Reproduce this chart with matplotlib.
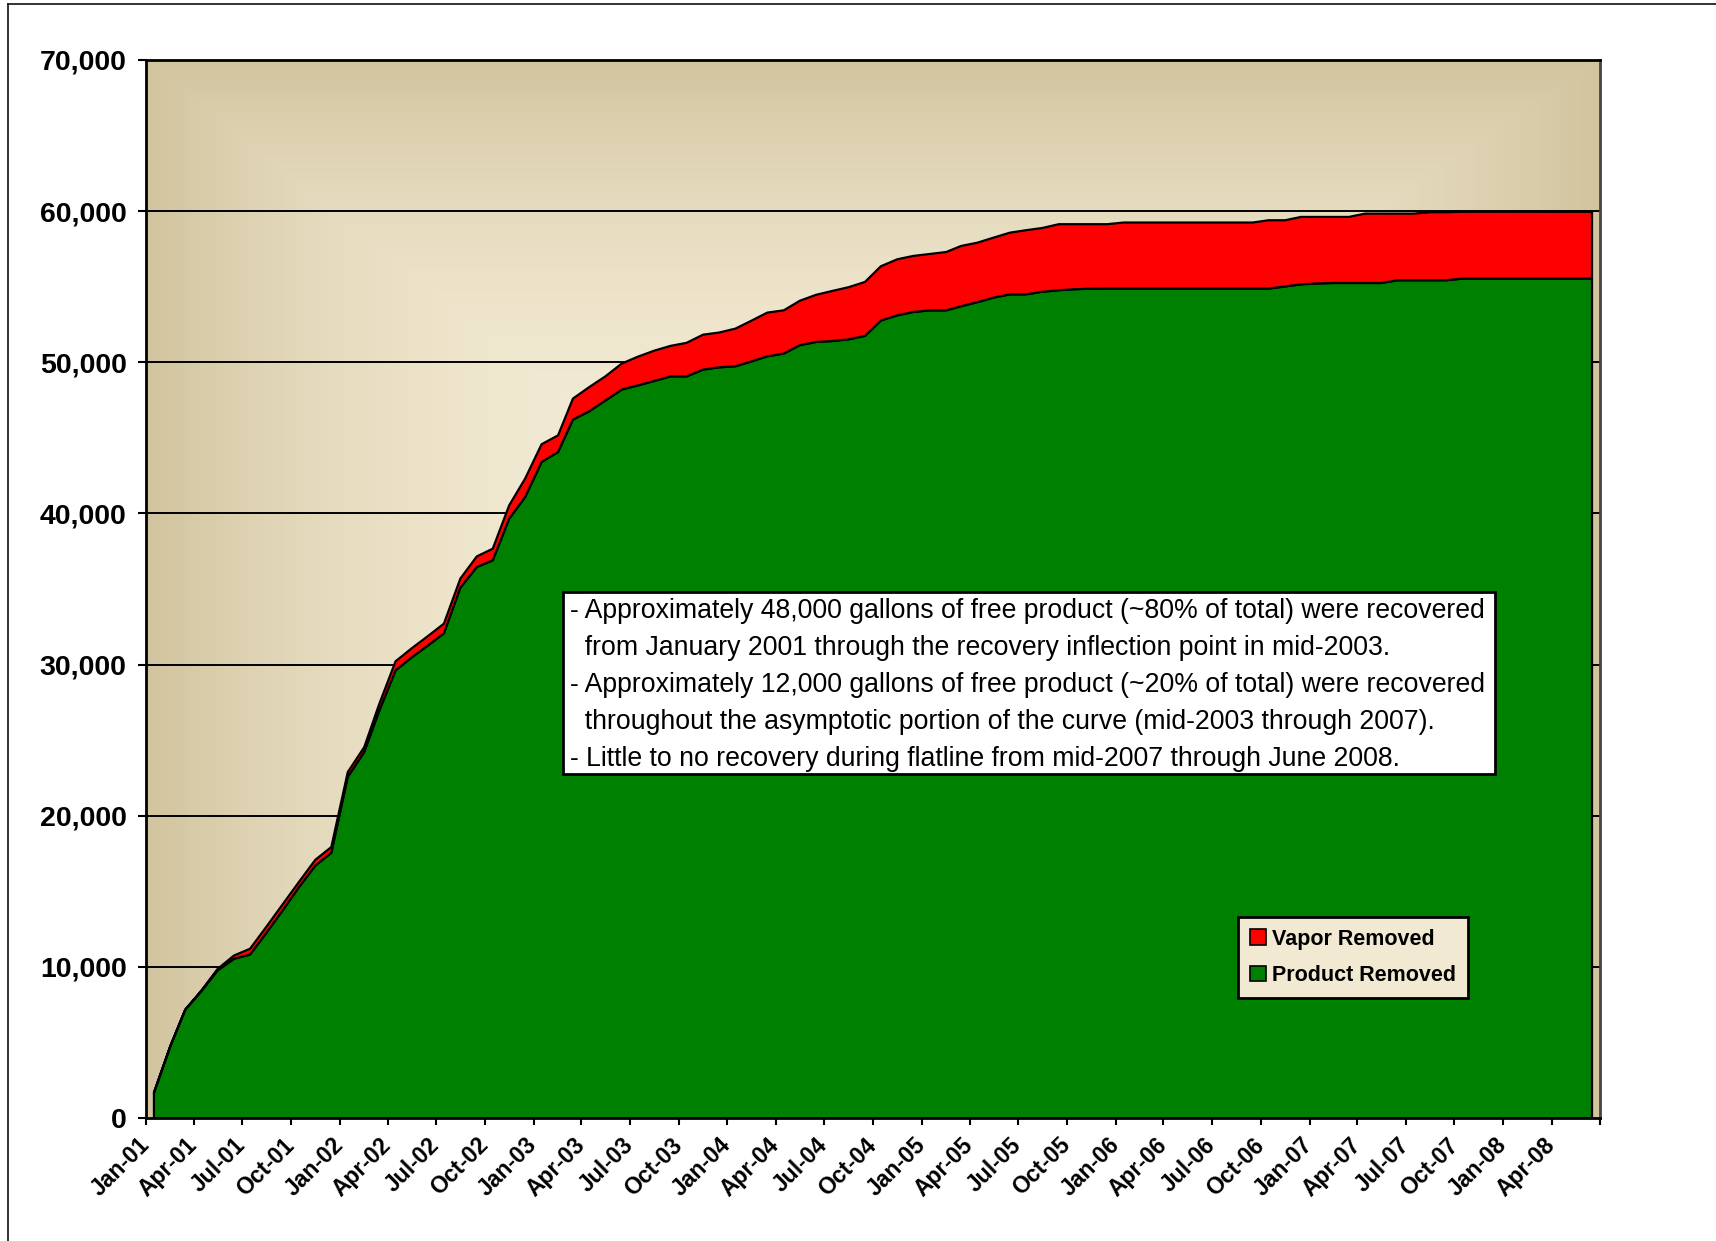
import matplotlib
matplotlib.use("Agg")
import matplotlib.pyplot as plt
from matplotlib.patches import Patch, Rectangle
from matplotlib.lines import Line2D
import numpy as np
import pandas as pd

plt.rcParams['font.family'] = ['Liberation Sans', 'DejaVu Sans']

# cumulative recovery, one reading per month (mid-month), gallons
months = pd.date_range("2001-01-01", "2008-06-01", freq="MS") + pd.Timedelta(days=14)

product_removed = [
    1700, 4800, 7200, 8450, 9800, 10570, 10850, 12300, 13800, 15300,
    16740, 17580, 22600, 24250, 26950, 29650, 30500, 31300, 32100, 35120,
    36490, 36930, 39690, 41120, 43440, 44100, 46240, 46800, 47500, 48230,
    48500, 48800, 49100, 49100, 49550, 49700, 49770, 50100, 50430, 50610,
    51160, 51380, 51440, 51550, 51780, 52800, 53140, 53360, 53470, 53470,
    53740, 54020, 54310, 54530, 54530, 54700, 54800, 54870, 54900, 54910,
    54910, 54910, 54910, 54910, 54910, 54910, 54910, 54910, 54910, 54910,
    55050, 55190, 55250, 55280, 55280, 55280, 55280, 55460, 55460, 55460,
    55460, 55570, 55570, 55570, 55570, 55570, 55570, 55570, 55570, 55570,
]

vapor_removed = [
    0, 0, 0, 50, 100, 220, 380, 400, 400, 350,
    380, 380, 320, 320, 450, 600, 600, 620, 640, 600,
    700, 770, 880, 1220, 1170, 1100, 1390, 1600, 1600, 1720,
    1900, 2000, 2020, 2220, 2310, 2300, 2490, 2700, 2890, 2860,
    2940, 3120, 3310, 3450, 3570, 3590, 3710, 3710, 3730, 3860,
    3990, 3930, 3970, 4080, 4240, 4220, 4370, 4300, 4270, 4260,
    4370, 4370, 4370, 4370, 4370, 4370, 4370, 4370, 4370, 4520,
    4380, 4460, 4400, 4370, 4370, 4590, 4590, 4410, 4410, 4500,
    4500, 4420, 4420, 4420, 4420, 4420, 4420, 4420, 4420, 4420,
]

y_ticks = [0, 10000, 20000, 30000, 40000, 50000, 60000, 70000]
x_ticks = pd.date_range("2001-01-01", "2008-07-01", freq="3MS")
x_labels = [d.strftime("%b-%y") for d in x_ticks[:-1]] + [""]

note = ("- Approximately 48,000 gallons of free product (~80% of total) were recovered\n"
        "  from January 2001 through the recovery inflection point in mid-2003.\n"
        "- Approximately 12,000 gallons of free product (~20% of total) were recovered\n"
        "  throughout the asymptotic portion of the curve (mid-2003 through 2007).\n"
        "- Little to no recovery during flatline from mid-2007 through June 2008.")

W, H = 1716, 1241
fig = plt.figure(figsize=(W / 100, H / 100), dpi=100)
ax = fig.add_axes([146 / W, 1 - 1118 / H, (1600 - 146) / W, (1118 - 60) / H])

# tan-to-cream background, lightest towards the middle
gx, gy = np.meshgrid(np.linspace(0, 1, 400), np.linspace(0, 1, 300))
cx, cy = 0.45, 0.5
d = np.maximum(np.abs(gx - cx) / np.where(gx < cx, cx, 1 - cx),
               np.abs(gy - cy) / np.where(gy < cy, cy, 1 - cy))
t = np.clip(d, 0, 1) ** 2.6
edge = np.array([209, 196, 158]) / 255
centre = np.array([244, 236, 214]) / 255
bg = centre[None, None, :] * (1 - t[..., None]) + edge[None, None, :] * t[..., None]
ax.imshow(bg, extent=[0, 1, 0, 1], transform=ax.transAxes, origin="lower",
          aspect="auto", zorder=0, interpolation="bilinear")

for yv in y_ticks[1:-1]:
    ax.axhline(yv, color="black", lw=1.4, zorder=1)

x = months.to_pydatetime()
polys = ax.stackplot(x, product_removed, vapor_removed,
                     colors=["#008000", "#FF0000"], edgecolor="black",
                     linewidth=1.6, zorder=2)

ax.set_xlim(pd.Timestamp("2001-01-01"), pd.Timestamp("2008-07-01"))
ax.set_ylim(0, 70000)
ax.set_yticks(y_ticks)
ax.set_yticklabels([f"{v:,}" for v in y_ticks], fontsize=20.5, fontweight="bold")
ax.set_xticks(x_ticks.to_pydatetime())
ax.set_xticklabels(x_labels, fontsize=16.5, fontweight="bold", rotation=45,
                   ha="right", va="center", rotation_mode="anchor")
ax.tick_params(axis="y", direction="out", length=6, width=1.5, pad=8)
ax.tick_params(axis="x", direction="out", length=5, width=1.5, pad=12)

for side in ["left", "bottom", "top"]:
    ax.spines[side].set_linewidth(2)
    ax.spines[side].set_color("black")
ax.spines["right"].set_linewidth(2)
ax.spines["right"].set_color("#444444")

# note box
box = Rectangle(((563 - 146) / 1454, (1118 - 774) / 1058), 932 / 1454, 182 / 1058,
                transform=ax.transAxes, facecolor="white", edgecolor="black",
                lw=2, zorder=4)
ax.add_patch(box)
ax.text((570 - 146) / 1454, (1118 - 598) / 1058, note, transform=ax.transAxes,
        ha="left", va="top", fontsize=19.2, linespacing=1.55, zorder=5)

handles = [Patch(facecolor="#FF0000", edgecolor="black", lw=1.2, label="Vapor Removed"),
           Patch(facecolor="#008000", edgecolor="black", lw=1.2, label="Product Removed")]
leg = fig.legend(handles=handles, loc="upper left",
                 bbox_to_anchor=(1238 / W, 1 - 917 / H), frameon=True,
                 fancybox=False, edgecolor="black", facecolor="#F1E9D2",
                 framealpha=1, prop={"weight": "bold", "size": 15.5},
                 handlelength=0.75, handleheight=0.75, handletextpad=0.3,
                 labelspacing=0.7, borderpad=0.55, borderaxespad=0)
leg.get_frame().set_linewidth(2)

# page border
fig.add_artist(Line2D([7.5 / W, 7.5 / W], [0, 1 - 4 / H], transform=fig.transFigure,
                      color="#222222", lw=1.3))
fig.add_artist(Line2D([7.5 / W, 1], [1 - 4 / H, 1 - 4 / H], transform=fig.transFigure,
                      color="#222222", lw=1.3))

fig.savefig("out.png", dpi=100)
